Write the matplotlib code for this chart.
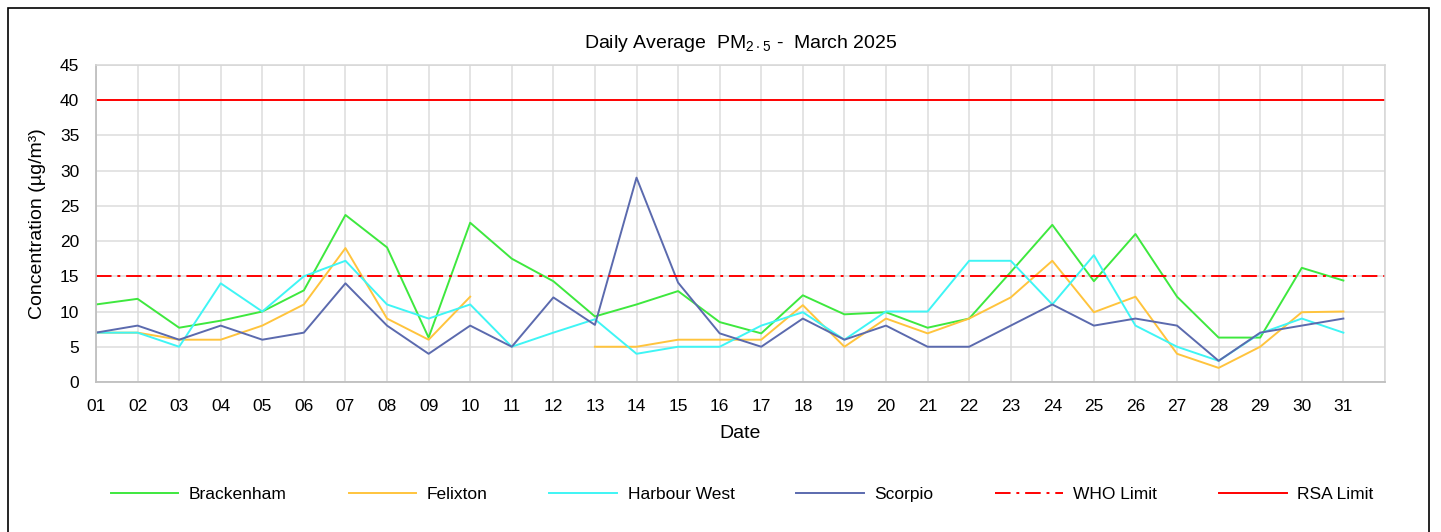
import numpy as np
import matplotlib.pyplot as plt
from matplotlib.patches import Rectangle

plt.rcParams['font.family'] = ['Liberation Sans', 'DejaVu Sans']
plt.rcParams['mathtext.fontset'] = 'custom'
plt.rcParams['mathtext.rm'] = 'Liberation Sans'

days = list(range(1, 32))
day_labels = [f'{d:02d}' for d in days]

brackenham = [11, 11.8, 7.7, 8.7, 10, 13, 23.7, 19.1, 6.3, 22.6, 17.5, 14.3, 9.3, 11, 12.9, 8.5,
              6.9, 12.3, 9.6, 9.9, 7.7, 9, 15.6, 22.3, 14.3, 21, 12.1, 6.3, 6.3, 16.2, 14.4]
felixton = [7, 7, 6, 6, 8, 11, 19, 9, 6, 12.1, np.nan, np.nan, 5, 5, 6, 6,
            6, 10.9, 5, 9, 6.9, 9, 12, 17.2, 9.9, 12.1, 4, 2, 5, 9.9, 10]
harbour_west = [7, 7, 5, 14, 10, 15, 17.2, 11, 9, 11, 5, 7, 8.9, 4, 5, 5,
                8, 9.9, 6, 10, 10, 17.2, 17.2, 11, 18, 8, 5, 3, 6.9, 9, 7]
scorpio = [7, 8, 6, 8, 6, 7, 14, 8, 4, 8, 5, 12, 8.1, 29, 14.1, 6.9,
           5, 9, 6, 8, 5, 5, 8, 11, 8, 9, 8, 3, 7, 8, 9]
who_limit = 15
rsa_limit = 40

fig = plt.figure(figsize=(14.41, 5.32), dpi=100)
ax = fig.add_axes([0.0666, 0.282, 0.8945, 0.596])

# рамка вокруг всего графика
fig.patches.append(Rectangle((0.0055, -0.01), 0.986, 0.995, transform=fig.transFigure,
                             fill=False, edgecolor='black', linewidth=1.2))

lw = 1.4
ax.plot(days, brackenham, color='#3ee83e', lw=lw, label='Brackenham')
ax.plot(days, felixton, color='#ffc43d', lw=lw, label='Felixton')
ax.plot(days, harbour_west, color='#3ff5f5', lw=lw, label='Harbour West')
ax.plot(days, scorpio, color='#5b6aae', lw=lw, label='Scorpio')
ax.axhline(who_limit, color='#ff0000', lw=lw, ls=(0, (8, 3, 1.5, 3)), label='WHO Limit')
ax.axhline(rsa_limit, color='#ff0000', lw=lw, label='RSA Limit')

ax.set_xlim(1, 32)
ax.set_ylim(0, 45)
ax.set_xticks(list(range(1, 33)))
ax.set_xticklabels(day_labels + [''])
ax.set_yticks(range(0, 46, 5))
ax.tick_params(axis='x', labelsize=12.5, length=0, pad=12)
ax.tick_params(axis='y', labelsize=12.5, length=0, pad=12)
ax.grid(True, color='#dcdcdc', lw=1.1)
ax.set_axisbelow(True)
for side in ['top', 'right']:
    ax.spines[side].set_color('#d6d6d6')
    ax.spines[side].set_linewidth(1.1)
for side in ['left', 'bottom']:
    ax.spines[side].set_color('#bfbfbf')
    ax.spines[side].set_linewidth(1.3)

ax.set_title(r'Daily Average  PM$_{\mathregular{2\cdot5}}$ -  March 2025', fontsize=14, pad=12)
ax.set_xlabel('Date', fontsize=14, labelpad=8)
ax.set_ylabel('Concentration (µg/m³)', fontsize=14, labelpad=10)

fig.legend(loc='center', bbox_to_anchor=(0.066, 0.05, 0.898, 0.04), mode='expand', ncol=6,
           frameon=False, fontsize=12.5, handlelength=3.9, handletextpad=0.6)

fig.savefig('out.png', dpi=100)
